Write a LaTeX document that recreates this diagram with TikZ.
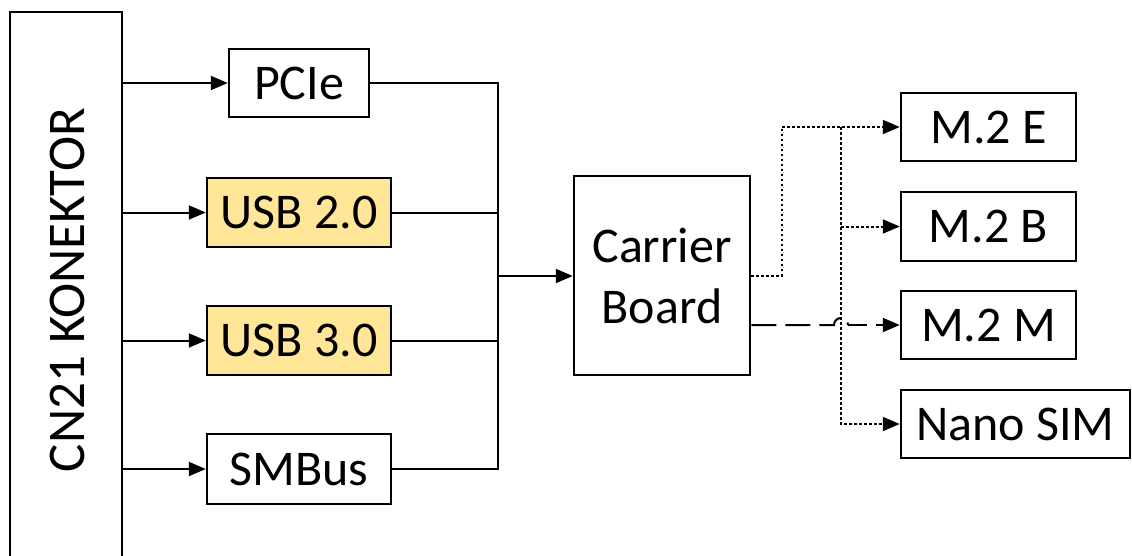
\documentclass[tikz,border=0pt]{standalone}
\usepackage{fontspec}
\setmainfont{Carlito}
\usetikzlibrary{arrows.meta,calc}
\definecolor{usbfill}{HTML}{FFE699}
\tikzset{
  blk/.style={draw=black, line width=2.5pt, inner sep=0pt, align=center,
    font=\fontsize{50}{61}\selectfont},
  usbblk/.style={blk, fill=usbfill},
  wire/.style={line width=2pt},
  tip/.style={-{Triangle[length=17pt,width=14pt]}},
  arr/.style={wire, tip},
  dotwire/.style={line width=2pt, dash pattern=on 2.5pt off 2.5pt},
  dashwire/.style={line width=2pt, dash pattern=on 25pt off 9pt},
}
\begin{document}
\begin{tikzpicture}[x=1pt,y=-1pt]
  \useasboundingbox (0,0) rectangle (1132,555);
  \begin{scope}
    \clip (0,0) rectangle (1132,555);
    % connector housing running off the lower edge
    \node[blk, minimum width=112pt, minimum height=588pt] (kon) at (66,306) {};
  \end{scope}
  \node[rotate=90, font=\fontsize{53}{60}\selectfont] (konlbl) at (67,290) {CN21 KONEKTOR};

  % interface blocks
  \node[blk, minimum width=140pt, minimum height=68pt] (pcie) at (299,83) {PCIe};
  \node[usbblk, minimum width=184pt, minimum height=69pt] (usb2) at (299,212.5) {USB 2.0};
  \node[usbblk, minimum width=184pt, minimum height=69pt] (usb3) at (299,340.5) {USB 3.0};
  \node[blk, minimum width=184pt, minimum height=70pt] (smbus) at (299,469) {SMBus};

  \node[blk, minimum width=176pt, minimum height=199pt] (cb) at (662,275.5) {Carrier\\Board};

  % slots on the carrier board
  \node[blk, minimum width=175pt, minimum height=68pt] (m2e) at (988.5,127) {M.2 E};
  \node[blk, minimum width=175pt, minimum height=69pt] (m2b) at (988.5,226.5) {M.2 B};
  \node[blk, minimum width=175pt, minimum height=68pt] (m2m) at (988.5,325) {M.2 M};
  \node[blk, minimum width=229pt, minimum height=68pt] (sim) at (1015.5,424) {Nano SIM};

  % bus junctions
  \coordinate (bj) at (498,276);
  \coordinate (sx) at (841,226);
  \coordinate (up) at (782,200);

  % connector to interface blocks
  \draw[arr] (kon.east |- pcie.west) -- (pcie.west);
  \draw[arr] (kon.east |- usb2.west) -- (usb2.west);
  \draw[arr] (kon.east |- usb3.west) -- (usb3.west);
  \draw[arr] (kon.east |- smbus.west) -- (smbus.west);

  % interface blocks merged into the carrier board
  \draw[wire] (pcie.east) -| (bj);
  \draw[wire] (smbus.east) -| (bj);
  \draw[wire] (usb2.east) -- (usb2.east -| bj);
  \draw[wire] (usb3.east) -- (usb3.east -| bj);
  \draw[arr] (bj) -- (bj -| cb.west);

  % carrier board to the slots
  \draw[dotwire] (cb.east) -| (up |- m2e.west);
  \draw[dotwire, tip] (up |- m2e.west) -- (m2e.west);
  \draw[dotwire, tip] (sx |- m2e.west) |- (sim.west);
  \draw[dotwire, tip] (sx |- m2b.west) -- (m2b.west);
  \draw[dashwire] (cb.east |- m2m.west) -- ($(sx |- m2m.west)+(-7,0)$)
    arc[start angle=180, end angle=0, radius=7pt];
  \draw[dashwire, tip, dash phase=6pt]
    ($(sx |- m2m.west)+(7,0)$) -- (m2m.west);
\end{tikzpicture}
\end{document}
